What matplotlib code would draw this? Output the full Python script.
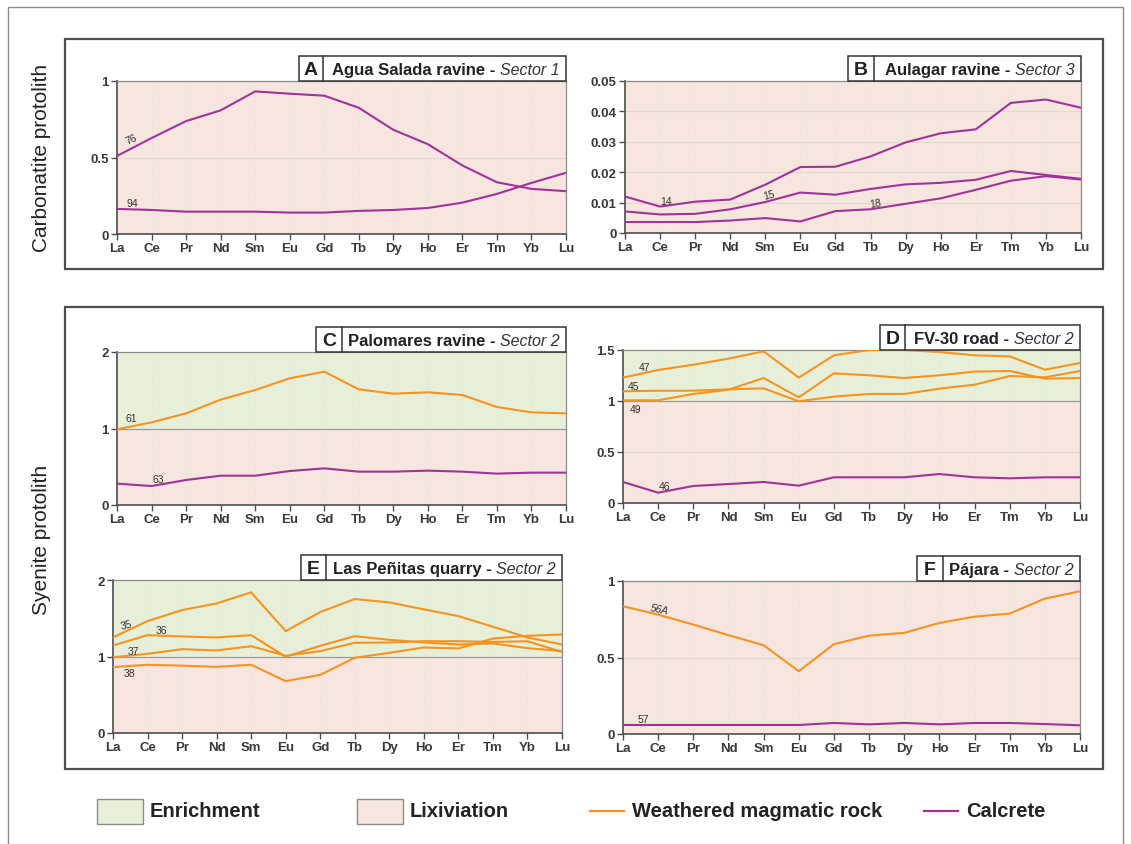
import matplotlib
matplotlib.use("Agg")
import matplotlib.pyplot as plt
from matplotlib.patches import Rectangle
from matplotlib.lines import Line2D
from matplotlib import font_manager

# ---------------------------------------------------------------- data
ree = ["La", "Ce", "Pr", "Nd", "Sm", "Eu", "Gd", "Tb", "Dy", "Ho", "Er", "Tm", "Yb", "Lu"]

# A - Agua Salada ravine (calcrete)
a_76 = [0.51, 0.627, 0.738, 0.808, 0.932, 0.917, 0.904, 0.825, 0.681, 0.587, 0.448, 0.338, 0.295, 0.28]
a_94 = [0.164, 0.157, 0.146, 0.146, 0.146, 0.14, 0.14, 0.151, 0.157, 0.17, 0.205, 0.262, 0.334, 0.40]

# B - Aulagar ravine (calcrete)
b_14 = [0.0120, 0.0087, 0.0103, 0.0110, 0.0159, 0.0217, 0.0218, 0.0252, 0.0298, 0.0328, 0.0341, 0.0428, 0.0439, 0.0412]
b_15 = [0.0071, 0.0061, 0.0063, 0.0078, 0.0102, 0.0133, 0.0126, 0.0145, 0.0160, 0.0165, 0.0175, 0.0204, 0.0191, 0.0178]
b_18 = [0.0036, 0.0036, 0.0036, 0.0041, 0.0049, 0.0038, 0.0072, 0.0078, 0.0096, 0.0114, 0.0142, 0.0172, 0.0187, 0.0176]

# C - Palomares ravine
c_61 = [0.99, 1.08, 1.198, 1.377, 1.503, 1.656, 1.743, 1.512, 1.455, 1.473, 1.438, 1.281, 1.211, 1.198]
c_63 = [0.279, 0.248, 0.327, 0.383, 0.383, 0.444, 0.479, 0.436, 0.436, 0.449, 0.436, 0.41, 0.423, 0.423]

# D - FV-30 road
d_47 = [1.229, 1.304, 1.356, 1.415, 1.487, 1.229, 1.448, 1.50, 1.50, 1.48, 1.448, 1.438, 1.307, 1.373]
d_45 = [1.095, 1.101, 1.101, 1.114, 1.124, 0.997, 1.043, 1.069, 1.069, 1.121, 1.16, 1.245, 1.232, 1.294]
d_49 = [1.007, 1.007, 1.069, 1.111, 1.225, 1.036, 1.271, 1.252, 1.225, 1.252, 1.288, 1.294, 1.219, 1.225]
d_46 = [0.206, 0.101, 0.167, 0.186, 0.206, 0.17, 0.252, 0.252, 0.252, 0.284, 0.252, 0.242, 0.252, 0.252]

# E - Las Peñitas quarry
e_35 = [1.249, 1.463, 1.607, 1.694, 1.838, 1.332, 1.581, 1.751, 1.707, 1.616, 1.528, 1.389, 1.249, 1.157]
e_36 = [1.144, 1.279, 1.262, 1.249, 1.279, 0.996, 1.14, 1.266, 1.218, 1.183, 1.157, 1.17, 1.109, 1.07]
e_37 = [0.99, 1.035, 1.096, 1.079, 1.135, 1.01, 1.07, 1.179, 1.183, 1.20, 1.20, 1.19, 1.20, 1.06]
e_38 = [0.862, 0.892, 0.88, 0.865, 0.892, 0.678, 0.76, 0.983, 1.048, 1.118, 1.105, 1.235, 1.27, 1.288]

# F - Pájara
f_56a = [0.835, 0.78, 0.715, 0.646, 0.58, 0.41, 0.587, 0.643, 0.661, 0.726, 0.767, 0.787, 0.885, 0.933]
f_57 = [0.059, 0.059, 0.059, 0.059, 0.059, 0.059, 0.072, 0.063, 0.072, 0.063, 0.072, 0.072, 0.065, 0.057]

# ---------------------------------------------------------------- style
W, H = 1131, 845
ORANGE = "#F7931E"
PURPLE = "#A0329A"
PINK = "#F7E5E0"
GREEN = "#E8EFD9"
FRAME = "#4D4D4D"
TICKC = "#3A3A3A"

installed = {f.name for f in font_manager.fontManager.ttflist}
NARROW = "Liberation Sans Narrow" if "Liberation Sans Narrow" in installed else "Liberation Sans"
plt.rcParams["font.family"] = ["Liberation Sans", "DejaVu Sans"]

fig = plt.figure(figsize=(W / 100, H / 100), dpi=100)
renderer = fig.canvas.get_renderer()


def frac_rect(x0, y0, x1, y1):
    """Pixel box (top-left origin) to figure-fraction rect."""
    return [x0 / W, 1 - y1 / H, (x1 - x0) / W, (y1 - y0) / H]


def px_box(x0, y0, x1, y1, **kw):
    r = Rectangle((x0 / W, 1 - y1 / H), (x1 - x0) / W, (y1 - y0) / H,
                  transform=fig.transFigure, **kw)
    fig.patches.append(r)
    return r


def px_line(xs, ys, **kw):
    fig.lines.append(Line2D([x / W for x in xs], [1 - y / H for y in ys],
                            transform=fig.transFigure, **kw))


# outer frame and the two group boxes
px_line([8, 8, 1123, 1123], [845, 8, 8, 845], color="#8C8C8C", lw=1.0)
px_box(65, 40, 1103, 270, fill=False, ec=FRAME, lw=1.6)
px_box(65, 308, 1103, 770, fill=False, ec=FRAME, lw=1.6)

fig.text(42 / W, 1 - 158 / H, "Carbonatite protolith", rotation=90, ha="center", va="center",
         fontsize=15, family=NARROW, color="#222222")
fig.text(42 / W, 1 - 540 / H, "Syenite protolith", rotation=90, ha="center", va="center",
         fontsize=15, family=NARROW, color="#222222")


def panel(box, ylim, yticks, ytlabels, series, threshold, title_box, letter, name, sector, notes):
    x0, y0, x1, y1 = box
    ax = fig.add_axes(frac_rect(x0, y0, x1, y1))
    n = len(ree)
    ax.set_xlim(0, n - 1)
    ax.set_ylim(*ylim)
    # background zones: enrichment above 1, lixiviation below
    if threshold is not None and threshold < ylim[1]:
        ax.axhspan(ylim[0], threshold, color=PINK, zorder=0, lw=0)
        ax.axhspan(threshold, ylim[1], color=GREEN, zorder=0, lw=0)
        ax.axhline(threshold, color="#9A9A9A", lw=0.9, zorder=1)
    else:
        ax.axhspan(ylim[0], ylim[1], color=PINK, zorder=0, lw=0)
    for t in yticks[1:-1]:
        if t != threshold:
            ax.axhline(t, color="#E6D6D1", lw=0.8, zorder=1)
    for i in range(1, n - 1):
        ax.axvline(i, color="#EDDFDB", lw=0.5, ls=(0, (4, 3)), zorder=1)
    for vals, col in series:
        ax.plot(range(n), vals, color=col, lw=1.5, zorder=3, solid_joinstyle="round")
    for txt, x, y, rot in notes:
        ax.text(x, y, txt, fontsize=7.5, color="#333333", rotation=rot, ha="center",
                va="center", zorder=4, style="italic" if txt.endswith("A") else "normal")
    ax.set_xticks(range(n))
    ax.set_xticklabels(ree)
    ax.set_yticks(yticks)
    ax.set_yticklabels(ytlabels)
    ax.tick_params(axis="both", direction="out", length=4, width=1.0, color=FRAME,
                   labelsize=9.5, labelcolor=TICKC, pad=2)
    for lab in ax.get_xticklabels() + ax.get_yticklabels():
        lab.set_fontweight("bold")
    for side in ("left", "bottom"):
        ax.spines[side].set_color(FRAME)
        ax.spines[side].set_linewidth(1.2)
    for side in ("top", "right"):
        ax.spines[side].set_color("#8A8A8A")
        ax.spines[side].set_linewidth(0.9)
    # title box in the upper right corner
    tx0, tdiv = title_box
    tx1 = x1
    ty0, ty1 = y0 - 25, y0
    ymid = 1 - ((ty0 + ty1) / 2 + 1) / H
    px_box(tx0, ty0, tx1, ty1, fc="white", ec="#333333", lw=1.1)
    px_line([tdiv, tdiv], [ty0, ty1], color="#333333", lw=1.1)
    fig.text(((tx0 + tdiv) / 2) / W, ymid, letter, fontsize=14,
             fontweight="bold", ha="center", va="center", color="#222222")
    # italic sector sits at the right end, bold name runs right up to it
    sec = fig.text((tx1 - 6) / W, ymid, sector, fontsize=11.5,
                   style="italic", ha="right", va="center", color="#333333")
    sec_w = sec.get_window_extent(renderer).width
    fig.text((tx1 - 6 - sec_w - 5) / W, ymid, name + " -", fontsize=12,
             fontweight="bold", ha="right", va="center", color="#222222")
    return ax


panel((117, 82, 566, 235), (0, 1), [0, 0.5, 1], ["0", "0.5", "1"],
      [(a_76, PURPLE), (a_94, PURPLE)], None, (299, 323), "A",
      "Agua Salada ravine", "Sector 1",
      [("76", 0.42, 0.625, 25), ("94", 0.44, 0.205, 0)])

panel((625, 82, 1081, 234), (0, 0.05), [0, 0.01, 0.02, 0.03, 0.04, 0.05],
      ["0", "0.01", "0.02", "0.03", "0.04", "0.05"],
      [(b_14, PURPLE), (b_15, PURPLE), (b_18, PURPLE)], None, (848, 874), "B",
      "Aulagar ravine", "Sector 3",
      [("14", 1.16, 0.0106, 0), ("15", 4.12, 0.0127, 15), ("18", 7.14, 0.0099, 10)])

panel((117, 353, 566, 506), (0, 2), [0, 1, 2], ["0", "1", "2"],
      [(c_61, ORANGE), (c_63, PURPLE)], 1, (316, 342), "C",
      "Palomares ravine", "Sector 2",
      [("61", 0.4, 1.14, 0), ("63", 1.19, 0.345, 0)])

panel((623, 351, 1080, 504), (0, 1.5), [0, 0.5, 1, 1.5], ["0", "0.5", "1", "1.5"],
      [(d_47, ORANGE), (d_45, ORANGE), (d_49, ORANGE), (d_46, PURPLE)], 1, (880, 905), "D",
      "FV-30 road", "Sector 2",
      [("47", 0.62, 1.33, 0), ("45", 0.31, 1.15, 0), ("49", 0.35, 0.925, 0), ("46", 1.19, 0.17, 0)])

panel((113, 581, 562, 734), (0, 2), [0, 1, 2], ["0", "1", "2"],
      [(e_35, ORANGE), (e_36, ORANGE), (e_37, ORANGE), (e_38, ORANGE)], 1, (301, 326), "E",
      "Las Peñitas quarry", "Sector 2",
      [("35", 0.4, 1.42, 15), ("36", 1.4, 1.35, 0), ("37", 0.59, 1.07, 0), ("38", 0.48, 0.79, 0)])

panel((623, 582, 1080, 735), (0, 1), [0, 0.5, 1], ["0", "0.5", "1"],
      [(f_56a, ORANGE), (f_57, PURPLE)], None, (917, 943), "F",
      "Pájara", "Sector 2",
      [("56A", 1.04, 0.815, -12), ("57", 0.59, 0.095, 0)])

# ---------------------------------------------------------------- legend
ly = 812
px_box(97, 800, 143, 825, fc=GREEN, ec="#8C8C8C", lw=1.0)
fig.text(150 / W, 1 - ly / H, "Enrichment", fontsize=14.5, fontweight="bold", family=NARROW,
         ha="left", va="center", color="#222222")
px_box(357, 800, 403, 825, fc=PINK, ec="#8C8C8C", lw=1.0)
fig.text(410 / W, 1 - ly / H, "Lixiviation", fontsize=14.5, fontweight="bold", family=NARROW,
         ha="left", va="center", color="#222222")
px_line([590, 624], [ly, ly], color=ORANGE, lw=1.6)
fig.text(632 / W, 1 - ly / H, "Weathered magmatic rock", fontsize=14.5, fontweight="bold",
         family=NARROW, ha="left", va="center", color="#222222")
px_line([924, 958], [ly, ly], color=PURPLE, lw=1.6)
fig.text(966 / W, 1 - ly / H, "Calcrete", fontsize=14.5, fontweight="bold", family=NARROW,
         ha="left", va="center", color="#222222")

fig.savefig("out.png", dpi=100, facecolor="white")
